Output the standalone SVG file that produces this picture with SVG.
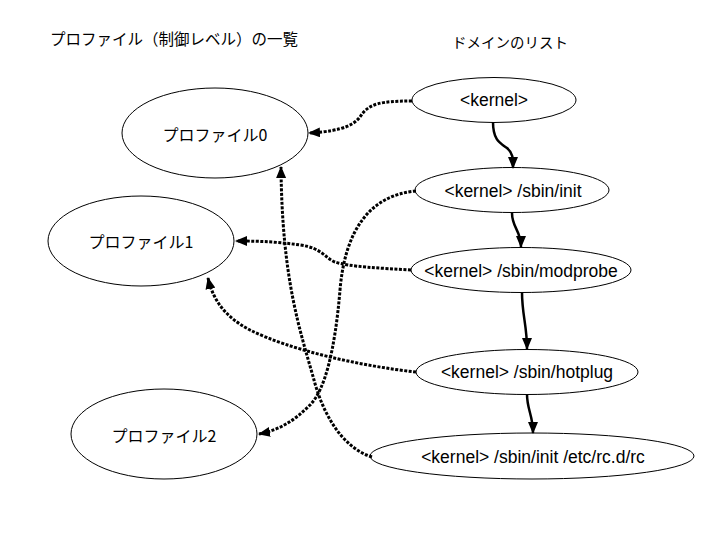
<svg xmlns="http://www.w3.org/2000/svg" width="720" height="540" viewBox="0 0 720 540">
<style>
.node ellipse{fill:#fff;stroke:#000;stroke-width:1}
.jp{font-family:"Noto Sans CJK JP","Noto Sans",sans-serif;fill:#000}
.en{font-family:"Liberation Sans",Arial,sans-serif;font-size:17.5px;fill:#000;text-anchor:middle}
.lbl{font-size:16px;text-anchor:middle}
.dot{fill:none;stroke:#000;stroke-width:3;stroke-dasharray:3 1.5;marker-end:url(#ah)}
.sol{fill:none;stroke:#000;stroke-width:2.5;marker-end:url(#ah)}
</style>
<defs>
<marker id="ah" markerUnits="userSpaceOnUse" markerWidth="12" markerHeight="10" refX="11" refY="5" orient="auto" viewBox="0 0 12 10">
<path d="M0,0 L12,5 L0,10 z" fill="#000"/>
</marker>
</defs>
<rect width="720" height="540" fill="#fff"/>
<text class="jp" x="50" y="45" font-size="15.5">プロファイル（制御レベル）の一覧</text>
<text class="jp" x="452" y="48" font-size="14.5">ドメインのリスト</text>

<g id="p0" class="node"><ellipse cx="215" cy="133" rx="93" ry="45"/><text class="jp lbl" x="215" y="141">プロファイル0</text></g>
<g id="p1" class="node"><ellipse cx="141" cy="241" rx="93" ry="45"/><text class="jp lbl" x="141" y="248">プロファイル1</text></g>
<g id="p2" class="node"><ellipse cx="164" cy="434" rx="93" ry="45"/><text class="jp lbl" x="164" y="442">プロファイル2</text></g>

<g id="d0" class="node"><ellipse cx="494" cy="100" rx="82" ry="22.5"/><text class="en" x="494" y="106">&lt;kernel&gt;</text></g>
<g id="d1" class="node"><ellipse cx="512" cy="190" rx="97" ry="22.5"/><text class="en" x="513" y="197">&lt;kernel&gt; /sbin/init</text></g>
<g id="d2" class="node"><ellipse cx="521" cy="270" rx="110" ry="22.5"/><text class="en" x="521" y="277">&lt;kernel&gt; /sbin/modprobe</text></g>
<g id="d3" class="node"><ellipse cx="527" cy="372" rx="111" ry="22.5"/><text class="en" x="527" y="378">&lt;kernel&gt; /sbin/hotplug</text></g>
<g id="d4" class="node"><ellipse cx="532" cy="456" rx="162" ry="23"/><text class="en" x="533" y="463">&lt;kernel&gt; /sbin/init /etc/rc.d/rc</text></g>

<g id="connectors">
<path class="dot" d="M412,101 C380,101 370,104 362,114 C356,124 345,131 309,133"/>
<path class="dot" d="M416,191 C370,195 345,230 340,290 C335,350 325,390 310,405 C295,420 280,430 259,434"/>
<path class="dot" d="M411,270 C380,268 350,267 335,262 C325,258 322,248 300,245 C280,242 260,241 236,241"/>
<path class="dot" d="M416,372 C360,366 290,350 250,330 C225,317 213,300 208,278"/>
<path class="dot" d="M372,457 C340,447 322,410 314,380 C300,330 282,280 281,167"/>
<path class="sol" d="M493,122 C493,140 500,143 507,148 C513,153 513,158 513,168"/>
<path class="sol" d="M512,213 C512,228 521,230 521,247"/>
<path class="sol" d="M522,292 C522,315 527,325 527,349"/>
<path class="sol" d="M527,394 C527,410 533,415 533,433"/>
</g>
</svg>
